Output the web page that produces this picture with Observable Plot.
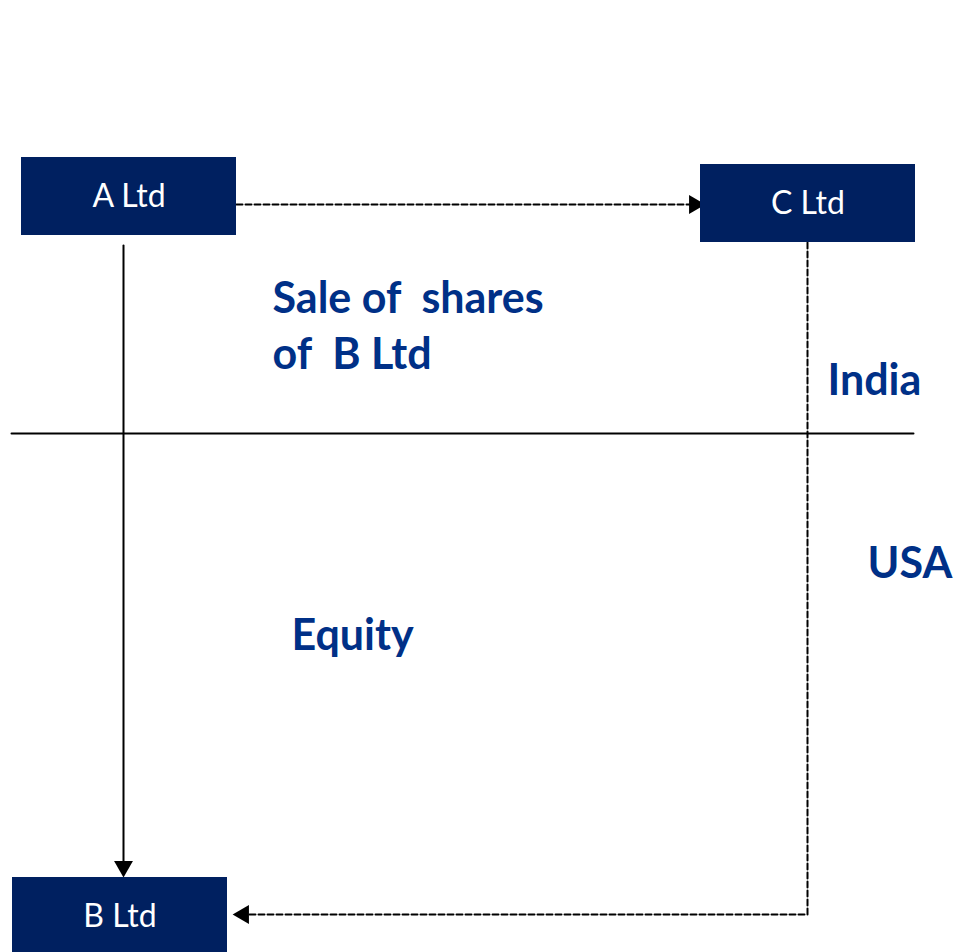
<!DOCTYPE html>
<html><head><meta charset="utf-8">
<script src="https://cdn.jsdelivr.net/npm/d3@7"></script>
<script src="https://cdn.jsdelivr.net/npm/@observablehq/plot@0.6"></script>
<style>body{margin:0;background:#fff}</style>
</head><body><div id="chart"></div>
<script>
// Entity boxes (diagram coordinates)
const entities = ["A Ltd", "C Ltd", "B Ltd"];
const boxX1 = [21, 700, 12];
const boxX2 = [236, 915, 227];
const boxY1 = [157, 164, 877];
const boxY2 = [235, 242, 952];

// Flow paths
const solidFlow = [[123, 245], [123, 866]];
const dashedTop = [[236, 204], [692, 204]];
const dashedReturn = [[807, 242], [807, 914], [244, 914]];
const border = [[11, 433], [913, 433]];

// Arrowheads: position + direction
const headX = [694, 123, 243];
const headY = [204, 866, 914];
const headRot = [90, 180, 270];

// Annotations
const notes = ["Sale of  shares", "of  B Ltd", "India", "USA", "Equity"];
const noteX = [272, 272, 827, 867, 291];
const noteY = [299, 355, 381, 564, 636];

const boxes = entities.map((name, i) => ({name, x1: boxX1[i], x2: boxX2[i], y1: boxY1[i], y2: boxY2[i]}));
const heads = headX.map((x, i) => ({x, y: headY[i], r: headRot[i]}));
const noteData = notes.map((t, i) => ({t, x: noteX[i], y: noteY[i]}));

const chart = Plot.plot({
  width: 954, height: 952,
  margin: 0,
  x: {domain: [0, 954], axis: null},
  y: {domain: [0, 952], reverse: true, axis: null},
  style: {fontFamily: "Lato, 'Open Sans', sans-serif", background: "#fff"},
  marks: [
    Plot.line(border, {x: d => d[0], y: d => d[1], stroke: "#000", strokeWidth: 2}),
    Plot.line(solidFlow, {x: d => d[0], y: d => d[1], stroke: "#000", strokeWidth: 2}),
    Plot.line(dashedTop, {x: d => d[0], y: d => d[1], stroke: "#000", strokeWidth: 2, strokeDasharray: "6,3"}),
    Plot.line(dashedReturn, {x: d => d[0], y: d => d[1], stroke: "#000", strokeWidth: 2, strokeDasharray: "6,3", curve: "linear"}),
    Plot.dot(heads, {x: "x", y: "y", rotate: "r", symbol: "triangle", r: 7, fill: "#000", stroke: "none"}),
    Plot.rect(boxes, {x1: "x1", x2: "x2", y1: "y1", y2: "y2", fill: "#002060"}),
    Plot.text(boxes, {x: d => (d.x1 + d.x2) / 2, y: d => (d.y1 + d.y2) / 2 + (d.name === "B Ltd" ? 2 : 0), text: "name", fill: "#fff", fontSize: 32, fontFamily: "Lato, 'Open Sans', sans-serif"}),
    Plot.text(noteData, {x: "x", y: "y", text: "t", textAnchor: "start", fill: "#003087", fontSize: 43, fontWeight: "bold", fontFamily: "Lato, 'Open Sans', sans-serif"})
  ]
});
document.getElementById("chart").append(chart);
</script>
</body></html>
